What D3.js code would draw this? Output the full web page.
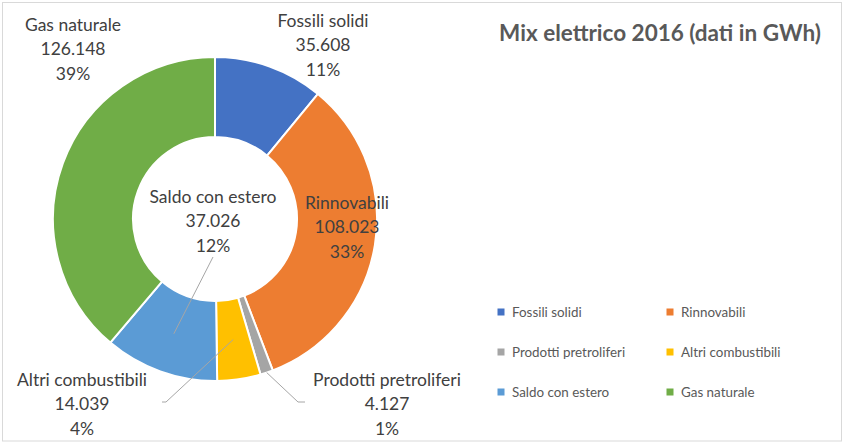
<!DOCTYPE html>
<html><head><meta charset="utf-8">
<script src="https://cdn.jsdelivr.net/npm/d3@7"></script>
<style>html,body{margin:0;padding:0;background:#fff;}svg{display:block;}</style>
</head><body>
<svg id="chart" width="843" height="443"></svg>
<script>
// ---- data ----
const categories = ["Fossili solidi","Rinnovabili","Prodotti pretroliferi","Altri combustibili","Saldo con estero","Gas naturale"];
const values = [35608, 108023, 4127, 14039, 37026, 126148];
const percentLabels = ["11%","33%","1%","4%","12%","39%"];
const colors = ["#4472C4","#ED7D31","#A5A5A5","#FFC000","#5B9BD5","#70AD47"];
const title = "Mix elettrico 2016 (dati in GWh)";

// ---- layout ----
const W = 843, H = 443;
const cx = 215, cy = 219, rOut = 162, rIn = 82;
const labelPos = [
  {x:323, y:45, leader:null},
  {x:347, y:227, leader:null},
  {x:387, y:404, leader:{from:"outer", end:[298,402], tail:[305,402]}},
  {x:82,  y:404, leader:{from:"centroid", end:[166,402], tail:[162,402]}},
  {x:213, y:221, leader:{from:"centroid", end:[213,257], tail:null}},
  {x:73,  y:49, leader:null}
];
const fs = 17.5, lineH = 24.5;

const itLocale = d3.formatLocale({decimal:",", thousands:".", grouping:[3], currency:["€",""]});
const fmt = itLocale.format(",");

const svg = d3.select("#chart");
svg.append("rect").attr("x",2.5).attr("y",2.5).attr("width",839).attr("height",438.5)
  .attr("fill","#fff").attr("stroke","#D9D9D9").attr("stroke-width",1);

const data = categories.map((c,i)=>({cat:c, value:values[i], pct:percentLabels[i], color:colors[i], i}));
const pie = d3.pie().value(d=>d.value).sort(null);
const arcs = pie(data);
const arc = d3.arc().innerRadius(rIn).outerRadius(rOut);

const g = svg.append("g").attr("transform",`translate(${cx},${cy})`);
g.selectAll("path.slice").data(arcs).join("path")
  .attr("class","slice")
  .attr("d",arc)
  .attr("fill",d=>d.data.color)
  .attr("stroke","#fff").attr("stroke-width",2).attr("stroke-linejoin","round");

// leader lines
arcs.forEach((a,i)=>{
  const lp = labelPos[i].leader;
  if(!lp) return;
  let start;
  const mid = (a.startAngle+a.endAngle)/2;
  if(lp.from==="centroid"){ const c = arc.centroid(a); start=[cx+c[0], cy+c[1]]; }
  else { start=[cx+rOut*Math.sin(mid), cy-rOut*Math.cos(mid)]; }
  const pts=[start, lp.end];
  if(lp.tail) pts.push(lp.tail);
  svg.append("path").attr("d",d3.line()(pts)).attr("fill","none")
    .attr("stroke","#A6A6A6").attr("stroke-width",1);
});

// data labels
const fontFam = "Lato, 'Open Sans', sans-serif";
arcs.forEach((a,i)=>{
  const p = labelPos[i];
  const lines=[a.data.cat, fmt(a.data.value), a.data.pct];
  const t = svg.append("text").attr("text-anchor","middle")
    .attr("font-family",fontFam).attr("font-size",fs).attr("fill","#404040");
  lines.forEach((l,k)=>{
    t.append("tspan").attr("x",p.x).attr("y",p.y+(k-1)*lineH+fs*0.36).text(l);
  });
});

// title
svg.append("text").attr("x",660).attr("y",33+22*0.36).attr("text-anchor","middle")
  .attr("font-family",fontFam).attr("font-weight","bold").attr("font-size",22.5)
  .attr("fill","#595959").text(title);

// legend
const legX = d3.scalePoint().domain([0,1]).range([501,670]);
const legY = d3.scalePoint().domain([0,1,2]).range([312,392]);
const lg = svg.append("g");
data.forEach((d,i)=>{
  const col=i%2, row=Math.floor(i/2);
  const x=legX(col), y=legY(row);
  lg.append("rect").attr("x",x-3.5).attr("y",y-3.5).attr("width",7).attr("height",7).attr("fill",d.color);
  lg.append("text").attr("x",x+11).attr("y",y+13*0.36).attr("font-family",fontFam)
    .attr("font-size",13.4).attr("fill","#595959").text(d.cat);
});
</script>
</body></html>
